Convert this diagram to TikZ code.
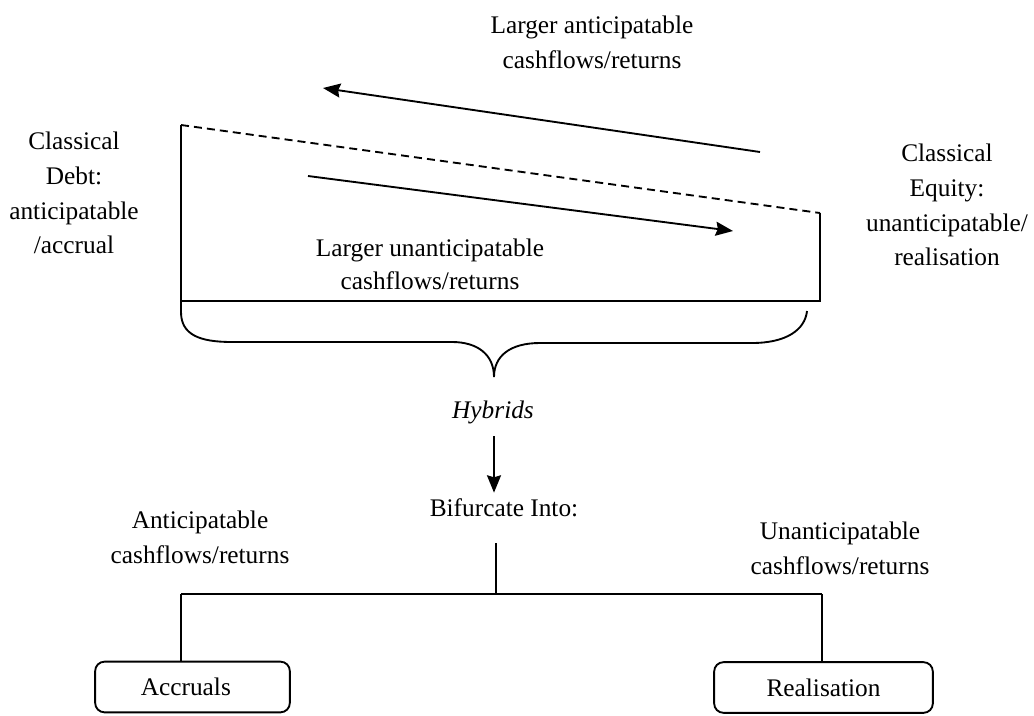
\documentclass[tikz,border=0pt]{standalone}
\usepackage{fontspec}
\setmainfont{Liberation Serif}
\usetikzlibrary{arrows.meta}
\begin{document}
\begin{tikzpicture}[x=0.75pt,y=-0.75pt,
  line width=1.4pt,
  lbl/.style={align=center,inner sep=0pt,font=\fontsize{19}{26}\selectfont},
  tip/.style={-{Stealth[length=13pt,width=10.5pt,inset=1.5pt]}},
  leaf/.style={draw,rounded corners=7pt,inner sep=0pt,minimum height=38pt,font=\fontsize{19}{24}\selectfont}]
\useasboundingbox (0,0) rectangle (1034,715);

% spectrum frame: dashed slope from debt (left) to equity (right)
\coordinate (bTL) at (181,125);
\coordinate (bTR) at (820,213);
\coordinate (bBL) at (181,301);
\coordinate (bBR) at (820,301);
\draw[dash pattern=on 6pt off 3.8pt] (bTL) -- (bTR);
\draw (bTL) -- (bBL) -- (bBR) -- (bTR);

% brace gathering the whole range into hybrids
\coordinate (cusp) at (494,377);
\draw (bBL) -- (181,312) .. controls (181,335) and (200,342) .. (232,342)
  -- (452,342) .. controls (478,342) and (494,355) .. (cusp)
  .. controls (494,356) and (510,343) .. (540,343)
  -- (752,343) .. controls (786,343) and (805,330) .. (807,311);

% labels
\node[lbl] (top) at (592,42) {Larger anticipatable\\cashflows/returns};
\node[lbl] (debt) at (74,193) {Classical\\Debt:\\anticipatable\\/accrual};
\node[lbl] (equity) at (947,205) {Classical\\Equity:\\unanticipatable/\\realisation};
\node[lbl,font=\fontsize{19}{25}\selectfont] (inner) at (430,264) {Larger unanticipatable\\cashflows/returns};
\node[lbl,font=\fontsize{19}{26}\selectfont\itshape] (hyb) at (493,412) {Hybrids};
\node[lbl] (bif) at (504,508) {Bifurcate Into:};
\node[lbl] (antc) at (200,537) {Anticipatable\\cashflows/returns};
\node[lbl] (unan) at (840,548) {Unanticipatable\\cashflows/returns};

% trend arrows
\coordinate (upT) at (760,152);
\coordinate (upH) at (323,88);
\coordinate (loT) at (308,176);
\coordinate (loH) at (733,231);
\draw[tip] (upT) -- (upH);
\draw[tip] (loT) -- (loH);

% hybrids split into two treatments
\draw[tip,shorten <=9pt,shorten >=4pt] (hyb.south -| cusp) -- (bif.north -| cusp);
\coordinate (fork) at (496,594);
\coordinate (forkL) at (181,594);
\coordinate (forkR) at (822,594);
\draw ([yshift=-19pt]bif.south -| fork) -- (fork);
\draw (forkL) -- (forkR);

\node[leaf,minimum width=146pt] (accr) at (192.5,687) {\hspace*{-10pt}Accruals};
\node[leaf,minimum width=164pt] (real) at (823.5,687.5) {Realisation};
\draw (forkL) -- (forkL |- accr.north);
\draw (forkR) -- (forkR |- real.north);
\end{tikzpicture}
\end{document}
